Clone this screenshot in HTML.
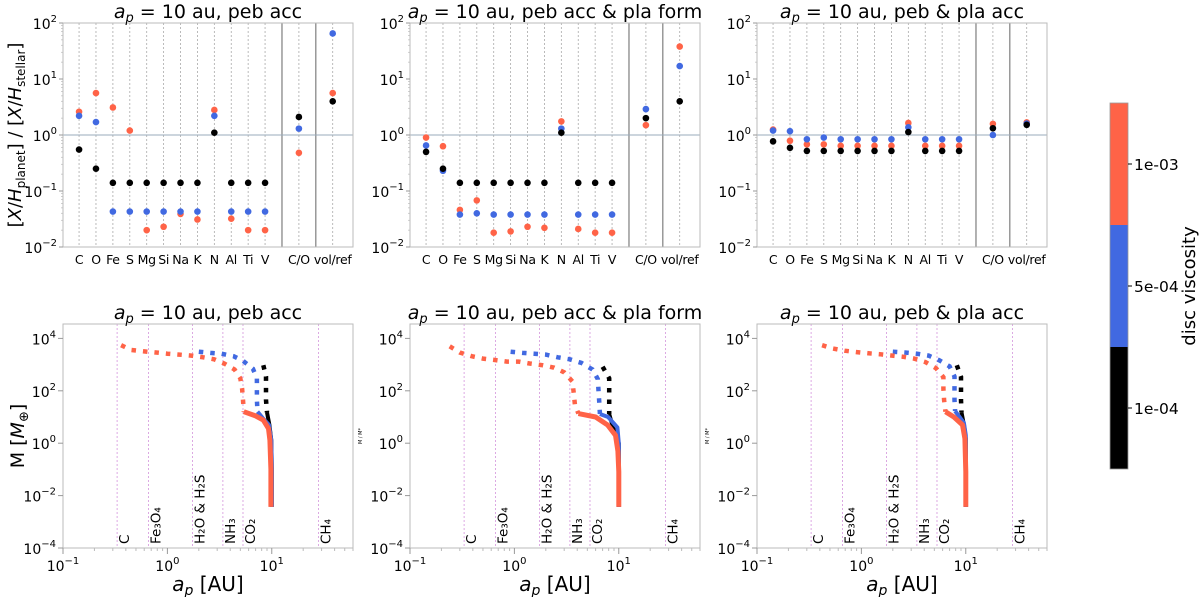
<!DOCTYPE html>
<html><head><meta charset="utf-8"><style>
body{margin:0;background:#fff}
svg{display:block;font-family:"DejaVu Sans","Liberation Sans",sans-serif}
</style></head><body>
<svg id="fig" width="1200" height="597" viewBox="0 0 1200 597" xmlns="http://www.w3.org/2000/svg"></svg>
<script>
// ---------- data: abundance panels ----------
const elemLabels = ['C','O','Fe','S','Mg','Si','Na','K','N','Al','Ti','V','C/O','vol/ref'];
const elemIndex = [0,1,2,3,4,5,6,7,8,9,10,11,13,15];
const p1Black = [0.55,0.25,0.14,0.14,0.14,0.14,0.14,0.14,1.1,0.14,0.14,0.14,2.1,4.0];
const p1Blue  = [2.2,1.7,0.043,0.043,0.043,0.043,0.043,0.043,2.2,0.043,0.043,0.043,1.3,65];
const p1Red   = [2.6,5.6,3.1,1.2,0.020,0.023,0.039,0.031,2.8,0.032,0.020,0.020,0.48,5.6];
const p2Black = [0.50,0.25,0.14,0.14,0.14,0.14,0.14,0.14,1.1,0.14,0.14,0.14,2.0,4.0];
const p2Blue  = [0.65,0.23,0.038,0.040,0.038,0.038,0.038,0.038,1.3,0.038,0.038,0.038,2.9,17];
const p2Red   = [0.90,0.63,0.046,0.068,0.018,0.019,0.023,0.022,1.75,0.021,0.018,0.018,1.5,38];
const p3Black = [0.77,0.59,0.52,0.52,0.52,0.52,0.52,0.52,1.13,0.52,0.52,0.52,1.32,1.52];
const p3Blue  = [1.2,1.17,0.84,0.9,0.84,0.84,0.84,0.84,1.37,0.84,0.84,0.84,1.0,1.6];
const p3Red   = [1.25,0.79,0.68,0.68,0.64,0.64,0.64,0.64,1.64,0.64,0.64,0.64,1.58,1.68];
const topTitles = ['peb acc','peb acc & pla form','peb & pla acc'];
// ---------- data: growth tracks ----------
const iceLineA = [0.33,0.66,1.74,3.4,5.3,28];
const iceLabels = ['C','Fe₃O₄','H₂O & H₂S','NH₃','CO₂','CH₄'];
const t1RedGasA = [0.36,0.45,0.6,0.78,1.0,1.3,1.7,2.2,2.8,3.5,4.4,5.0,5.2,5.3,5.4];
const t1RedGasM = [5500,3600,3200,2900,2600,2400,2200,1900,1600,1100,650,300,120,45,16];
const t1RedCoreA = [5.4,7.0,8.3,9.3,9.6,9.8,9.8];
const t1RedCoreM = [16,11,7.6,3.6,1.3,0.1,0.0037];
const t1BlueGasA = [2.0,2.6,3.3,4.3,5.3,6.6,7.2,7.2,7.2,7.3];
const t1BlueGasM = [3100,2800,2600,2100,1400,700,300,110,45,16];
const t1BlueCoreA = [7.3,8.2,9.4,9.9,10,10];
const t1BlueCoreM = [16,9,5,1.3,0.1,0.0037];
const t1BlackGasA = [8.3,8.8,8.8,8.8,9.0];
const t1BlackGasM = [950,350,130,45,15];
const t1BlackCoreA = [9.0,9.5,9.9,10,10];
const t1BlackCoreM = [15,5,1.3,0.1,0.0037];
const t2RedGasA = [0.24,0.30,0.39,0.5,0.65,0.85,1.1,1.4,1.85,2.4,3.0,3.6,3.7,3.8,4.1];
const t2RedGasM = [5000,2900,2100,1700,1500,1300,1300,1100,950,760,510,225,84,30,13.5];
const t2RedCoreA = [4.1,6.0,7.8,9.3,9.8,10,10];
const t2RedCoreM = [13.5,10,5,2,0.5,0.08,0.0037];
const t2BlueGasA = [0.92,1.2,1.55,2.0,2.6,3.4,4.4,5.6,6.3,6.4,6.5,6.6];
const t2BlueGasM = [3100,2800,2600,2400,1900,1600,1150,650,280,104,40,13];
const t2BlueCoreA = [6.6,7.9,9.7,10,10];
const t2BlueCoreM = [13,10,4,1,0.0037];
const t2BlackGasA = [7.0,8.1,8.1,8.1,8.1];
const t2BlackGasM = [830,300,105,40,13];
const t2BlackCoreA = [8.1,9.0,10,10];
const t2BlackCoreM = [13,3,1,0.0037];
const t3RedGasA = [0.42,0.53,0.69,0.9,1.17,1.5,1.97,2.5,3.2,4.1,5.2,6.1,6.1,6.2,6.4];
const t3RedGasM = [5500,4100,3400,3000,2700,2500,2200,2000,1700,1250,720,330,120,44,16];
const t3RedCoreA = [6.4,7.7,9.3,9.8,10,10];
const t3RedCoreM = [16,10,5,1.5,0.08,0.0037];
const t3BlueGasA = [2.0,2.6,3.4,4.4,5.6,7.0,7.8,7.8,7.8,7.9];
const t3BlueGasM = [3100,2900,2600,2200,1450,850,350,125,45,17];
const t3BlueCoreA = [7.9,9.6,10,10];
const t3BlueCoreM = [17,6,2,0.0037];
const t3BlackGasA = [8.2,9.0,9.0,9.0,9.1];
const t3BlackGasM = [950,340,122,44,15];
const t3BlackCoreA = [9.1,9.7,10,10];
const t3BlackCoreM = [15,4,1.5,0.0037];
const cbTicks = ['1e-04','5e-04','1e-03'];

const RED='#ff6347', BLUE='#4169e1', BLK='#000';
const NS='http://www.w3.org/2000/svg';
const svg=document.getElementById('fig');
function mk(tag,attrs,parent){const e=document.createElementNS(NS,tag);for(const k in attrs)e.setAttribute(k,attrs[k]);(parent||svg).appendChild(e);return e;}
function sup(t,base,exp,esize){const a=mk('tspan',{},t);a.textContent=base;const b=mk('tspan',{dy:-7,'font-size':esize||10},t);b.textContent=exp;}

const PX=[63,410,757], PW=290;
// ---- top panels ----
const TY0=23,TY1=247;
const topData=[[p1Black,p1Blue,p1Red],[p2Black,p2Blue,p2Red],[p3Black,p3Blue,p3Red]];
function tx(x0,i){return x0+(i+0.95)/(17.15)*PW;}
function ty(v){return TY0+(2-Math.log10(v))*(TY1-TY0)/4;}
for(let p=0;p<3;p++){
  const x0=PX[p];
  const g=mk('g',{});
  
  
  elemIndex.forEach(i=>{const l=mk('line',{x1:tx(x0,i),x2:tx(x0,i),y1:TY0,y2:TY1,stroke:'#aaa','stroke-width':0.8,'stroke-dasharray':'2 2'},g);
    });
  [12,14].forEach(i=>{const l=mk('line',{x1:tx(x0,i),x2:tx(x0,i),y1:TY0,y2:TY1,stroke:'#888','stroke-width':1.3},g);
    });
  const h=mk('line',{x1:x0,x2:x0+PW,y1:ty(1),y2:ty(1),stroke:'#9aabbb','stroke-width':1},g);
  
  const fr=mk('rect',{x:x0,y:TY0,width:PW,height:TY1-TY0,fill:'none',stroke:'#bbb','stroke-width':1},g);
  
  for(let e=-2;e<=2;e++){
    const y=ty(Math.pow(10,e));
    mk('line',{x1:x0-4,x2:x0,y1:y,y2:y,stroke:'#999'},g);
    const t=mk('text',{x:x0-6,y:y+6,'text-anchor':'end','font-size':14},g);
    
    sup(t,'10',e<0?'−'+(-e):String(e));
    if(e<2)for(let m=2;m<10;m++){const yy=ty(m*Math.pow(10,e));mk('line',{x1:x0-2,x2:x0,y1:yy,y2:yy,stroke:'#bbb','stroke-width':0.7},g);}
  }
  elemLabels.forEach((lab,k)=>{const t=mk('text',{x:tx(x0,elemIndex[k]),y:264,'text-anchor':'middle','font-size':12.5,'letter-spacing':-0.3},g);t.textContent=lab;
    });
  const cols=[BLK,BLUE,RED];
  [2,1,0].forEach(s=>{topData[p][s].forEach((v,k)=>{const c=mk('circle',{cx:tx(x0,elemIndex[k]),cy:ty(v),r:3.3,fill:cols[s]},g);
    });});
  const tt=mk('text',{x:x0+PW/2,y:18,'text-anchor':'middle','font-size':19},g);
  
  tt.innerHTML='<tspan font-style="italic">a</tspan><tspan font-style="italic" font-size="13" dy="4">p</tspan><tspan dy="-4"> = 10 au, '+topTitles[p].replace('&','&amp;')+'</tspan>';
}
const yl=mk('text',{transform:'translate(21,135) rotate(-90)','text-anchor':'middle','font-size':18});

yl.innerHTML='[<tspan font-style="italic">X</tspan>/<tspan font-style="italic">H</tspan><tspan font-size="12" dy="4">planet</tspan><tspan dy="-4">] / [</tspan><tspan font-style="italic">X</tspan>/<tspan font-style="italic">H</tspan><tspan font-size="12" dy="4">stellar</tspan><tspan dy="-4">]</tspan>';

// ---- bottom panels ----
const BY0=324,BY1=548;
function bx(x0,a){return x0+(Math.log10(a)+1)/(Math.log10(60)+1)*PW;}
function by(m){return BY1-(Math.log10(m)+4)*26.2;}
const tracks=[
 [[t1BlackGasA,t1BlackGasM,t1BlackCoreA,t1BlackCoreM],[t1BlueGasA,t1BlueGasM,t1BlueCoreA,t1BlueCoreM],[t1RedGasA,t1RedGasM,t1RedCoreA,t1RedCoreM]],
 [[t2BlackGasA,t2BlackGasM,t2BlackCoreA,t2BlackCoreM],[t2BlueGasA,t2BlueGasM,t2BlueCoreA,t2BlueCoreM],[t2RedGasA,t2RedGasM,t2RedCoreA,t2RedCoreM]],
 [[t3BlackGasA,t3BlackGasM,t3BlackCoreA,t3BlackCoreM],[t3BlueGasA,t3BlueGasM,t3BlueCoreA,t3BlueCoreM],[t3RedGasA,t3RedGasM,t3RedCoreA,t3RedCoreM]]];
for(let p=0;p<3;p++){
  const x0=PX[p];
  const g=mk('g',{});
  
  
  iceLineA.forEach((a,k)=>{const x=bx(x0,a);
    const l=mk('line',{x1:x,x2:x,y1:BY0,y2:BY1,stroke:'#d9a0e0','stroke-width':0.9,'stroke-dasharray':'2 2'},g);
    
    const t=mk('text',{transform:`translate(${x+12},${BY1-4}) rotate(-90)`,'font-size':13.5},g);
    
    t.textContent=iceLabels[k];});
  const fr=mk('rect',{x:x0,y:BY0,width:PW,height:BY1-BY0,fill:'none',stroke:'#bbb'},g);
  
  for(let e=-4;e<=4;e+=2){const y=by(Math.pow(10,e));mk('line',{x1:x0-5,x2:x0,y1:y,y2:y,stroke:'#999'},g);
    const t=mk('text',{x:x0-7,y:y+6,'text-anchor':'end','font-size':14},g);
    
    sup(t,'10',e<0?'−'+(-e):String(e));}
  for(let e=-1;e<=1;e++){const x=bx(x0,Math.pow(10,e));mk('line',{x1:x,x2:x,y1:BY1,y2:BY1+6,stroke:'#999'},g);
    const t=mk('text',{x:x,y:BY1+23,'text-anchor':'middle','font-size':14},g);
    
    sup(t,'10',e<0?'−'+(-e):String(e));
    for(let m=2;m<10;m++){const v=m*Math.pow(10,e);if(v>60)break;const xx=bx(x0,v);mk('line',{x1:xx,x2:xx,y1:BY1,y2:BY1+3,stroke:'#bbb'},g);}}
  const xl=mk('text',{x:x0+PW/2,y:591,'text-anchor':'middle','font-size':20},g);
  
  xl.innerHTML='<tspan font-style="italic">a</tspan><tspan font-style="italic" font-size="14" dy="4">p</tspan><tspan dy="-4"> [AU]</tspan>';
  const cols=[BLK,BLUE,RED], widths=[4,4,5];
  for(let s=0;s<3;s++){
    const [ga,gm,ca,cm]=tracks[p][s];
    const d1=ga.map((a,k)=>(k?'L':'M')+bx(x0,a).toFixed(1)+','+by(gm[k]).toFixed(1)).join(' ');
    const pl=mk('path',{d:d1,fill:'none',stroke:cols[s],'stroke-width':4.5,'stroke-dasharray':'4.5 7'},g);
    
    const d2=ca.map((a,k)=>(k?'L':'M')+bx(x0,a).toFixed(1)+','+by(cm[k]).toFixed(1)).join(' ');
    const pc=mk('path',{d:d2,fill:'none',stroke:cols[s],'stroke-width':widths[s],'stroke-linejoin':'round'},g);
    
  }
  const tt=mk('text',{x:x0+PW/2,y:319,'text-anchor':'middle','font-size':19},g);
  
  tt.innerHTML='<tspan font-style="italic">a</tspan><tspan font-style="italic" font-size="13" dy="4">p</tspan><tspan dy="-4"> = 10 au, '+topTitles[p].replace('&','&amp;')+'</tspan>';
  if(p>0){const s=mk('text',{transform:`translate(${x0-48},436) rotate(-90)`,'text-anchor':'middle','font-size':5},g);s.textContent='M / M*';
    }
}
const ml=mk('text',{transform:'translate(24,436) rotate(-90)','text-anchor':'middle','font-size':19});

ml.innerHTML='M [<tspan font-style="italic">M</tspan><tspan font-size="13" dy="4">⊕</tspan><tspan dy="-4">]</tspan>';

// ---- colorbar ----
const cb=mk('g',{});


[[RED,103],[BLUE,225],[BLK,347]].forEach(([c,y])=>mk('rect',{x:1110,y:y,width:18,height:122,fill:c},cb));
mk('rect',{x:1110,y:103,width:18,height:366,fill:'none',stroke:'#999','stroke-width':0.8},cb);
cbTicks.forEach((t,k)=>{const y=408-k*122;mk('line',{x1:1128,x2:1132,y1:y,y2:y,stroke:'#000'},cb);
  const tx_=mk('text',{x:1134,y:y+6,'font-size':15.5},cb);tx_.textContent=t;
  });
const cl=mk('text',{transform:'translate(1195,286) rotate(-90)','text-anchor':'middle','font-size':18},cb);
cl.textContent='disc viscosity';

</script>
</body></html>
